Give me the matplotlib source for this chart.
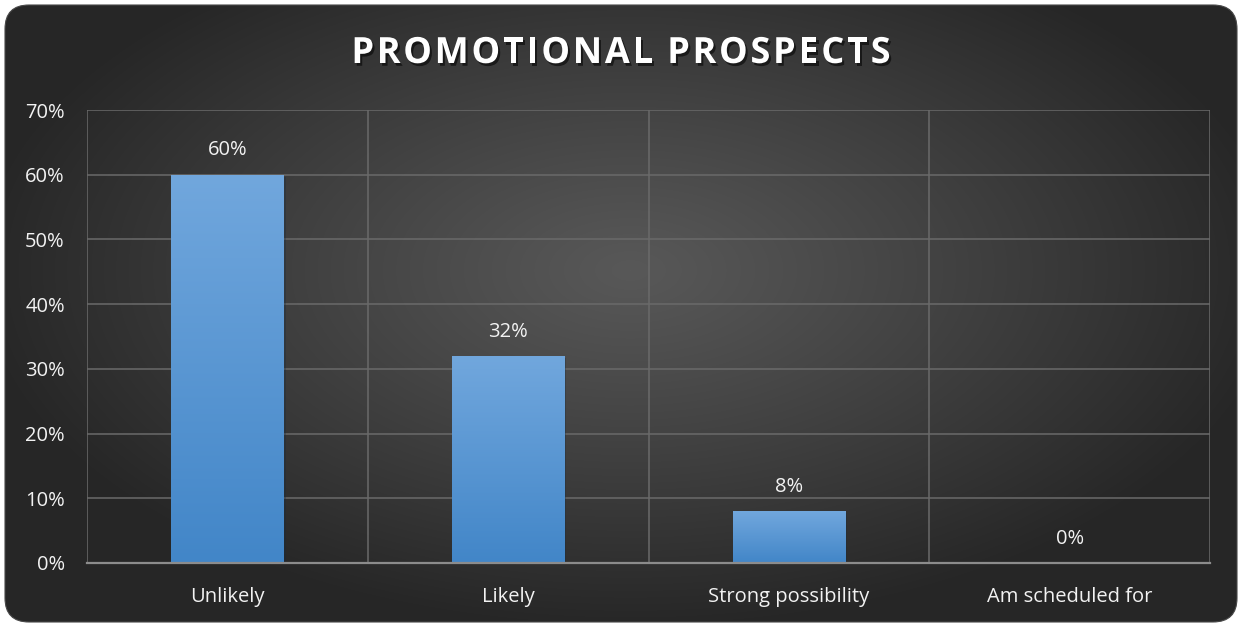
import numpy as np
import matplotlib
matplotlib.use("Agg")
import matplotlib.pyplot as plt
from matplotlib.patches import FancyBboxPatch
import matplotlib.patheffects as pe

categories = ["Unlikely", "Likely", "Strong possibility", "Am scheduled for"]
shares = [60, 32, 8, 0]
y_ticks = [0, 10, 20, 30, 40, 50, 60, 70]
title = "PROMOTIONAL PROSPECTS"

W, H = 1238, 623
plt.rcParams["font.family"] = ["Open Sans", "DejaVu Sans"]

fig = plt.figure(figsize=(W / 100, H / 100), dpi=100)
fig.patch.set_facecolor("white")

# dark rounded card with a soft radial highlight
bg = fig.add_axes([0, 0, 1, 1], zorder=0)
bg.set_xlim(0, W)
bg.set_ylim(H, 0)
bg.axis("off")
xx, yy = np.meshgrid(np.arange(W), np.arange(H))
d = np.sqrt(((xx - 630) / 660) ** 2 + ((yy - 270) / 360) ** 2)
f = np.clip(d / 1.0, 0, 1) ** 1.1
shade = (88 - 50 * f) / 255
img = bg.imshow(np.dstack([shade, shade, shade]), extent=[0, W, H, 0],
                aspect="auto", interpolation="bilinear")
card = FancyBboxPatch((5, 5), 1232, 617, boxstyle="round,pad=0,rounding_size=24",
                      facecolor="none", edgecolor="#484848", linewidth=0.8)
bg.add_patch(card)
img.set_clip_path(card)

ax = fig.add_axes([87 / W, 1 - 563 / H, (1210 - 87) / W, (563 - 110) / H], zorder=1)
ax.set_facecolor("none")

x = np.arange(len(categories))
bar_w = 0.4
bars = ax.bar(x, shares, width=bar_w, color="#4a8ccc", zorder=3,
              path_effects=[pe.SimplePatchShadow(offset=(1.5, -1.5), alpha=0.3), pe.Normal()])

# vertical blue gradient, restarted on each bar
top = np.array([0x71, 0xa7, 0xdd]) / 255
bottom = np.array([0x42, 0x86, 0xc8]) / 255
t = np.linspace(0, 1, 100)[:, None]
grad = (top * (1 - t) + bottom * t)[:, None, :]
for b in bars:
    if b.get_height() <= 0:
        continue
    gi = ax.imshow(grad, extent=[b.get_x(), b.get_x() + b.get_width(), 0, b.get_height()],
                   aspect="auto", zorder=4, interpolation="bilinear")
    gi.set_clip_path(b)

for xi, v in zip(x, shares):
    ax.annotate(f"{v}%", (xi, v), xytext=(0, 17.5), textcoords="offset points",
                ha="center", va="center", color="#f2f2f2", fontsize=14.5, zorder=5)

ax.set_xlim(-0.5, len(categories) - 0.5)
ax.set_ylim(0, 70)
ax.set_yticks(y_ticks)
ax.set_yticklabels([f"{v}%" for v in y_ticks])
ax.set_xticks(x)
ax.set_xticklabels(categories)
ax.set_xticks(np.arange(-0.5, len(categories)), minor=True)

ax.grid(axis="y", which="major", color="#6a6a6a", linewidth=1.1, zorder=1)
ax.grid(axis="x", which="minor", color="#6a6a6a", linewidth=1.1, zorder=1)
ax.grid(axis="x", which="major", visible=False)
ax.set_axisbelow(True)

for side in ["top", "right", "left"]:
    ax.spines[side].set_visible(False)
ax.spines["bottom"].set_color("#8c8c8c")
ax.spines["bottom"].set_linewidth(1.6)
ax.spines["bottom"].set_zorder(6)

ax.tick_params(axis="both", which="both", length=0, colors="#f2f2f2", labelsize=14.5)
ax.tick_params(axis="y", pad=16)
ax.tick_params(axis="x", pad=17)

# title with extra letter spacing, placed one glyph at a time
renderer = fig.canvas.get_renderer()
title_kw = dict(fontsize=26, fontweight="bold", color="white", va="center", ha="left",
                path_effects=[pe.withSimplePatchShadow(offset=(1.5, -2), shadow_rgbFace="black", alpha=0.55)])
spacing = 2.7
glyphs = [fig.text(0, 1 - 54 / H, ch, **title_kw) for ch in title]
widths = [g.get_window_extent(renderer).width if ch != " " else 9.0 for g, ch in zip(glyphs, title)]
total = sum(widths) + spacing * (len(title) - 1)
cursor = 621 - total / 2
for g, wpx in zip(glyphs, widths):
    g.set_x(cursor / W)
    cursor += wpx + spacing

fig.savefig("out.png", dpi=100)
